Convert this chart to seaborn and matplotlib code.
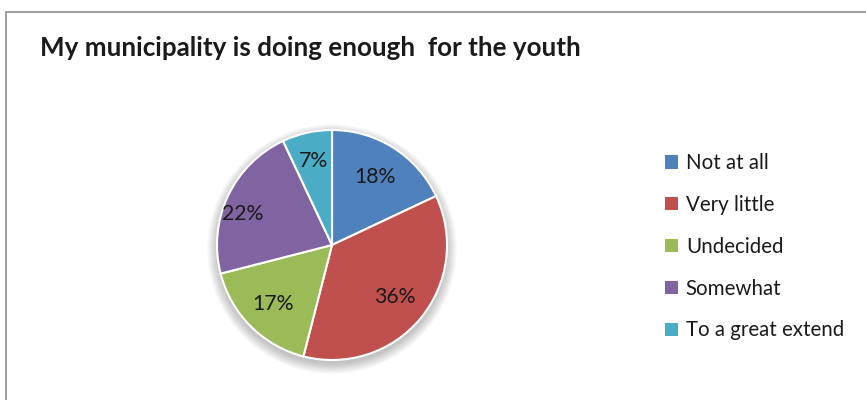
import numpy as np
import matplotlib
matplotlib.use("Agg")
import matplotlib.pyplot as plt
from matplotlib.patches import Rectangle, Circle
import seaborn as sns

categories = ["Not at all", "Very little", "Undecided", "Somewhat", "To a great extend"]
shares = [18, 36, 17, 22, 7]
colors = ["#4F81BD", "#C0504D", "#9BBB59", "#8064A2", "#4BACC6"]
title = "My municipality is doing enough  for the youth"

sns.set_theme(style="white")
plt.rcParams["font.family"] = ["Lato", "DejaVu Sans"]

W, H = 866, 400
fig = plt.figure(figsize=(W / 100, H / 100), dpi=100)
fig.patch.set_facecolor("white")

# outer frame (runs past the right and bottom edges)
fig.patches.append(Rectangle((6 / W, -0.1), 1.2, (H - 12) / H + 0.1,
                             transform=fig.transFigure, fill=False,
                             edgecolor="#8c8c8c", linewidth=1.2))

fig.text(40 / W, 1 - 48 / H, title, fontsize=18.7, fontweight="bold",
         color="#1a1a1a", va="center", ha="left")

cx, cy, r = 332, 245, 115
ax = fig.add_axes([(cx - r) / W, (H - cy - r) / H, 2 * r / W, 2 * r / H])

# soft shadow under the pie
for k in range(8):
    ax.add_patch(Circle((0, -0.035), 1.0 + 0.012 * k, color="black",
                        alpha=0.03, linewidth=0, zorder=0, clip_on=False))

wedges, _ = ax.pie(shares, colors=colors, startangle=90, counterclock=False,
                   radius=1.0, wedgeprops=dict(edgecolor="white", linewidth=1.5),
                   labels=None)
for w in wedges:
    w.set_zorder(2)
    w.set_clip_on(False)
ax.set_xlim(-1, 1)
ax.set_ylim(-1, 1)
ax.set_aspect("equal")
ax.axis("off")

# per-slice label distance and angular nudge (degrees)
dists = [0.70, 0.71, 0.72, 0.82, 0.75]
nudges = [0, 0, 0, 6, 0]
for w, v, d, n in zip(wedges, shares, dists, nudges):
    ang = np.deg2rad((w.theta1 + w.theta2) / 2 + n)
    ax.text(d * np.cos(ang), d * np.sin(ang), f"{v}%", ha="center", va="center",
            fontsize=15.3, color="#1a1a1a", zorder=3)

handles = [Rectangle((0, 0), 1, 1, facecolor=c, edgecolor="none") for c in colors]
leg = fig.legend(handles, categories, loc="upper left",
                 bbox_to_anchor=(657 / W, 1 - 145 / H), frameon=False,
                 fontsize=14.8, handlelength=0.6, handleheight=0.6,
                 handletextpad=0.4, labelspacing=1.06, borderaxespad=0)
for t in leg.get_texts():
    t.set_color("#1a1a1a")

fig.savefig("out.png", dpi=100, facecolor="white")
